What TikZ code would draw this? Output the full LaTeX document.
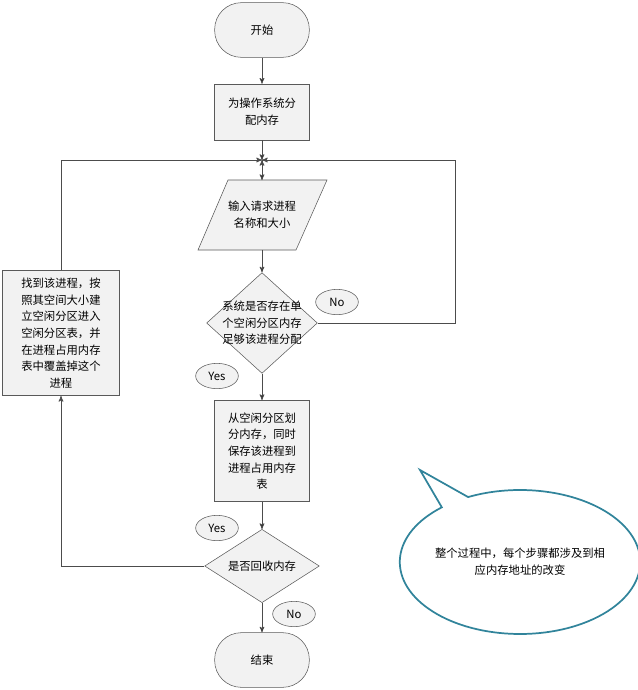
\documentclass[tikz,border=0pt]{standalone}
\usepackage{fontspec}
\newfontfamily\cjk{Noto Sans CJK SC}
\usetikzlibrary{arrows,calc,positioning}
\usetikzlibrary{shapes.geometric,shapes.callouts}

\begin{document}
\begin{tikzpicture}[
    x=0.75pt,
    y=-0.75pt,
    >=stealth',
    font=\cjk\fontsize{8.5}{12.5}\selectfont,
    box/.style={draw=gray!70!black, fill=gray!10, minimum width=71pt, align=center, inner sep=2pt},
    term/.style={box, rounded corners=20pt, minimum height=41pt},
    decide/.style={diamond, draw=gray!70!black, fill=gray!10, aspect=1.1, align=center, inner sep=-3pt},
    tag/.style={ellipse, draw=gray!70!black, fill=gray!10, minimum width=32pt, minimum height=19pt, inner sep=0pt},
    flow/.style={->, draw=gray!60!black, semithick}
]
	\useasboundingbox (0,0) rectangle (637,690);

	\node[term] (Start) at (262,30) {开始};
	\node[box, minimum height=42pt] (Alloc) at (262,112) {为操作系统分\\配内存};
	\coordinate (Join) at (262,160);
	% parallelogram drawn by hand
	\draw[draw=gray!70!black, fill=gray!10] (228,180) -- (327,180) -- (296,250) -- (198,250) -- cycle;
	\node[align=center, minimum height=52pt, inner sep=0pt] (Input) at (262,215) {输入请求进程\\名称和大小};
	\node[decide] (Fit) at (262,323) {系统是否存在单\\个空闲分区内存\\足够该进程分配};
	\node[box, minimum height=76pt] (Split) at (262,451) {从空闲分区划\\分内存，同时\\保存该进程到\\进程占用内存\\表};
	\node[decide, minimum width=86pt, minimum height=55pt] (Recycle) at (262,566) {是否回收内存};
	\node[term] (End) at (262,660) {结束};
	\node[box, minimum width=88pt, minimum height=94pt] (Free) at (61,333) {找到该进程，按\\照其空间大小建\\立空闲分区进入\\空闲分区表，并\\在进程占用内存\\表中覆盖掉这个\\进程};

	\node[tag] (NoA) at (337,302) {No};
	\node[tag] (YesA) at (217,376) {Yes};
	\node[tag] (YesB) at (217,528) {Yes};
	\node[tag] (NoB) at (294,614) {No};

	\path[flow]
		(Start) edge (Alloc)
		(Alloc) edge (Join)
		(Join) edge (Input)
		(Input) edge (Fit)
		(Fit) edge (Split)
		(Split) edge (Recycle)
		(Recycle) edge (End);
	\draw[flow] (Fit.east) -| (455,160) -- (Join);
	\draw[flow] (Recycle.west) -| (Free.south);
	\draw[flow] (Free.north) |- (Join);

	\node[ellipse callout, draw={rgb,255:red,49;green,132;blue,155}, line width=1.3pt, fill=white,
	      minimum width=160pt, minimum height=108pt, align=center, inner sep=0pt,
	      callout absolute pointer={(420,470)}] (Note) at (520,562)
	      {整个过程中，每个步骤都涉及到相\\应内存地址的改变};
\end{tikzpicture}
\end{document}
